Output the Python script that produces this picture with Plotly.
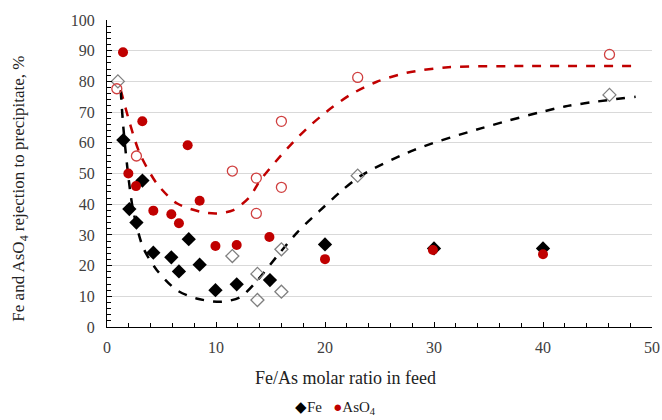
import plotly.graph_objects as go

# Fe/As molar ratio (x) and rejection, % (y)
fe_filled_x = [1.5, 2.05, 2.7, 3.25, 4.25, 5.9, 6.6, 7.5, 8.5, 9.95, 11.9, 14.95, 20, 30, 40]
fe_filled_y = [60.9, 38.4, 34.0, 47.7, 24.2, 22.7, 18.1, 28.6, 20.3, 12.0, 13.9, 15.3, 26.9, 25.6, 25.6]

fe_open_x = [1.0, 11.5, 13.8, 13.8, 16.0, 16.0, 23.0, 46.1]
fe_open_y = [80.0, 23.1, 17.3, 8.8, 25.3, 11.5, 49.3, 75.6]

aso4_filled_x = [1.47, 1.96, 2.66, 3.24, 4.25, 5.9, 6.6, 7.4, 8.5, 9.95, 11.9, 14.9, 20, 29.9, 40]
aso4_filled_y = [89.5, 50.0, 45.9, 67.0, 37.9, 36.7, 33.8, 59.2, 41.1, 26.4, 26.7, 29.3, 22.1, 25.1, 23.7]

aso4_open_x = [0.9, 2.7, 11.5, 13.7, 13.7, 16.0, 16.0, 23.0, 46.1]
aso4_open_y = [77.6, 55.7, 50.8, 48.5, 37.0, 67.0, 45.5, 81.3, 88.8]

# trend curves
fe_trend_x = [1.26, 1.5, 1.96, 2.4, 3.3, 4.56, 6.4, 8.2, 10.5, 12.2, 13.7, 15.7, 17.5, 19.5, 21.5, 23.3, 28.2, 34.3, 42.0, 48.5]
fe_trend_y = [77.0, 65.0, 49.0, 38.0, 26.0, 18.6, 12.0, 9.3, 8.2, 9.7, 14.8, 23.5, 31.0, 37.8, 44.3, 49.3, 57.7, 64.7, 71.8, 75.0]

aso4_trend_x = [1.26, 2.1, 3.0, 4.56, 6.4, 8.5, 10.06, 11.6, 13.1, 14.0, 15.5, 17.1, 18.6, 20.2, 22.3, 24.7, 27.5, 31.3, 38.9, 48.5]
aso4_trend_y = [77.2, 66.3, 56.6, 46.8, 40.3, 37.6, 37.0, 38.1, 42.4, 47.5, 54.0, 60.3, 65.5, 70.3, 75.6, 79.8, 82.8, 84.6, 85.0, 85.0]

x_ticks = [0, 10, 20, 30, 40, 50]
y_ticks = [0, 10, 20, 30, 40, 50, 60, 70, 80, 90, 100]

RED = "#c00000"
SERIF = "Liberation Serif, Times New Roman, serif"

fig = go.Figure()
fig.add_trace(go.Scatter(x=aso4_trend_x, y=aso4_trend_y, mode="lines", line=dict(color=RED, width=2.5, dash="dash", shape="spline", smoothing=0.8), showlegend=False, hoverinfo="skip"))
fig.add_trace(go.Scatter(x=fe_trend_x, y=fe_trend_y, mode="lines", line=dict(color="black", width=2.5, dash="dash", shape="spline", smoothing=0.8), showlegend=False, hoverinfo="skip"))
fig.add_trace(go.Scatter(x=fe_open_x, y=fe_open_y, mode="markers", name="Fe (open)",
                         marker=dict(symbol="diamond-open", size=10, color="#7f7f7f", line=dict(width=1.3)), showlegend=False))
fig.add_trace(go.Scatter(x=aso4_open_x, y=aso4_open_y, mode="markers", name="AsO4 (open)",
                         marker=dict(symbol="circle-open", size=10, color="#d04040", line=dict(width=1.3)), showlegend=False))
fig.add_trace(go.Scatter(x=fe_filled_x, y=fe_filled_y, mode="markers", name="Fe",
                         marker=dict(symbol="diamond", size=11, color="black"), showlegend=False))
fig.add_trace(go.Scatter(x=aso4_filled_x, y=aso4_filled_y, mode="markers", name="AsO<sub>4</sub>",
                         marker=dict(symbol="circle", size=10, color=RED), showlegend=False))

fig.update_layout(
    width=662, height=420,
    margin=dict(l=107, r=10, t=20, b=93, autoexpand=False),
    paper_bgcolor="white", plot_bgcolor="white",
    font=dict(family=SERIF, size=16, color="#404040"),
    xaxis=dict(range=[0, 50], tickvals=x_ticks, showgrid=False, zeroline=False, automargin=False,
               showline=True, linecolor="black", linewidth=1.2,
               ticks="inside", ticklen=5, tickcolor="black",
               minor=dict(dtick=2, ticks="inside", ticklen=4, tickcolor="black"),
               ticklabelstandoff=6),
    yaxis=dict(range=[0, 100], tickvals=y_ticks, showgrid=True, gridcolor="#d9d9d9", gridwidth=1,
               zeroline=False, showline=True, linecolor="black", linewidth=1.2, automargin=False,
               ticks="inside", ticklen=5, tickcolor="black",
               minor=dict(dtick=2, ticks="inside", ticklen=4, tickcolor="black", showgrid=False),
               ticklabelstandoff=8),
    annotations=[
        dict(text="Fe/As molar ratio in feed", xref="paper", yref="paper", x=0.4385, y=-0.166,
             xanchor="center", yanchor="middle", showarrow=False, font=dict(size=18, color="#222222")),
        dict(text="Fe and AsO<sub>4</sub> rejection to precipitate, %", xref="paper", yref="paper",
             x=-0.16, y=0.45, textangle=-90, xanchor="center", yanchor="middle", showarrow=False,
             font=dict(size=17, color="#222222")),
        dict(text="<span style='color:black'>◆</span>Fe   <span style='color:#c00000'>●</span>AsO<sub>4</sub>",
             xref="paper", yref="paper", x=0.42, y=-0.265, xanchor="center", yanchor="middle",
             showarrow=False, font=dict(size=15, color="#222222")),
    ],
)

fig.write_html("out.html", config={"displayModeBar": False},
               post_script="document.body.style.margin='0';document.body.style.overflow='hidden';")
